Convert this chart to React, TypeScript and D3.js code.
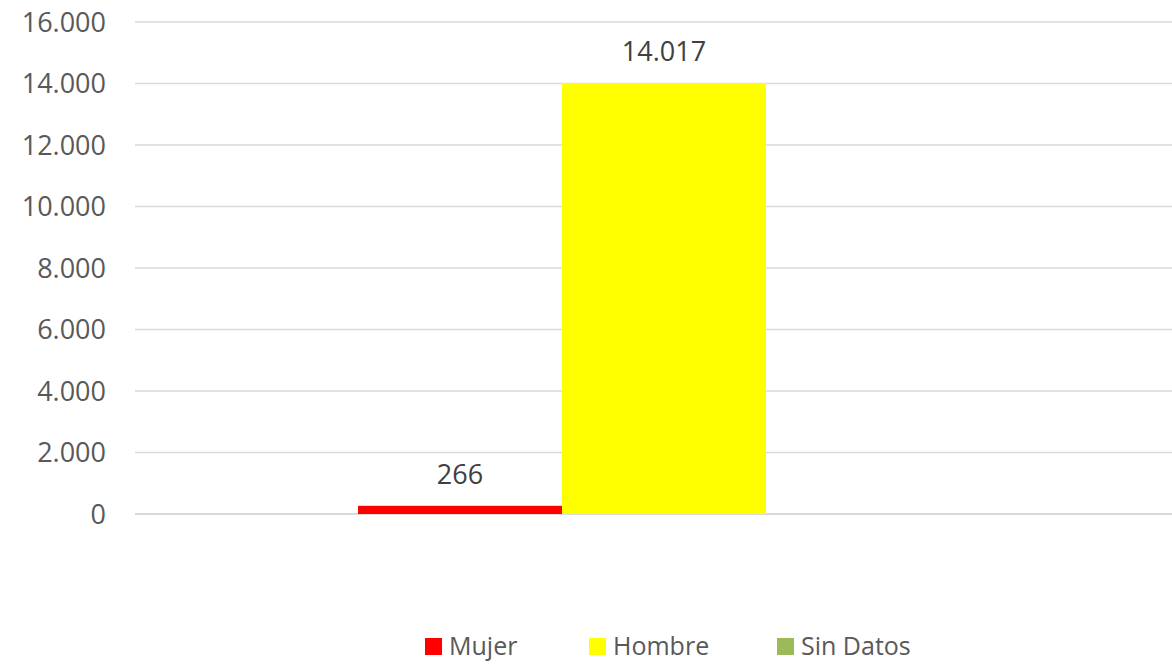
import React from "react";
import * as d3 from "d3";

const categories = [""];
const seriesNames = ["Mujer", "Hombre", "Sin Datos"];
const seriesValues: (number | null)[] = [266, 14017, 0];
const seriesColors = ["#ff0000", "#ffff00", "#9bbb59"];
const showLabel = [true, true, false];
const yTicks = [0, 2000, 4000, 6000, 8000, 10000, 12000, 14000, 16000];

const W = 1172;
const H = 664;
const plotLeft = 135;
const plotRight = 1193;
const plotTop = 22;
const plotBottom = 514;

const fmt = (v: number) => d3.format(",")(v).replace(/,/g, ".");

export default function App() {
  const y = d3.scaleLinear().domain([0, 16000]).range([plotBottom, plotTop]);
  const x0 = d3
    .scaleBand<string>()
    .domain(categories)
    .range([plotLeft, plotRight])
    .paddingOuter(0.3644)
    .paddingInner(0);
  const x1 = d3
    .scaleBand<string>()
    .domain(seriesNames)
    .range([0, x0.bandwidth()])
    .padding(0);

  const legendX = [425, 589, 777];
  const font = "'Open Sans', 'Liberation Sans', sans-serif";

  return (
    <div style={{ position: "absolute", left: 0, top: 0 }}>
      <svg width={W} height={H} style={{ display: "block", background: "#fff" }}>
        {yTicks.map((t) => (
          <g key={t}>
            <line
              x1={plotLeft}
              x2={W}
              y1={y(t)}
              y2={y(t)}
              stroke="#d9d9d9"
              strokeWidth={t === 0 ? 2 : 1.5}
            />
            <text
              x={106}
              y={y(t) + 9.5}
              textAnchor="end"
              fontFamily={font}
              fontSize={27}
              fill="#595959"
            >
              {fmt(t)}
            </text>
          </g>
        ))}
        {categories.map((c) => (
          <g key={c} transform={`translate(${x0(c)},0)`}>
            {seriesNames.map((s, i) => {
              const v = seriesValues[i];
              if (v == null) return null;
              const bx = x1(s)!;
              return (
                <g key={s}>
                  {v > 0 && (
                    <rect
                      x={bx}
                      y={y(v)}
                      width={x1.bandwidth()}
                      height={y(0) - y(v)}
                      fill={seriesColors[i]}
                    />
                  )}
                  {showLabel[i] && (
                    <text
                      x={bx + x1.bandwidth() / 2}
                      y={y(v) - 22}
                      textAnchor="middle"
                      fontFamily={font}
                      fontSize={27}
                      fill="#404040"
                    >
                      {fmt(v)}
                    </text>
                  )}
                </g>
              );
            })}
          </g>
        ))}
        {seriesNames.map((s, i) => (
          <g key={s}>
            <rect x={legendX[i]} y={638} width={17} height={17} fill={seriesColors[i]} />
            <text
              x={legendX[i] + 24}
              y={655}
              fontFamily={font}
              fontSize={25}
              fill="#595959"
            >
              {s}
            </text>
          </g>
        ))}
      </svg>
    </div>
  );
}
